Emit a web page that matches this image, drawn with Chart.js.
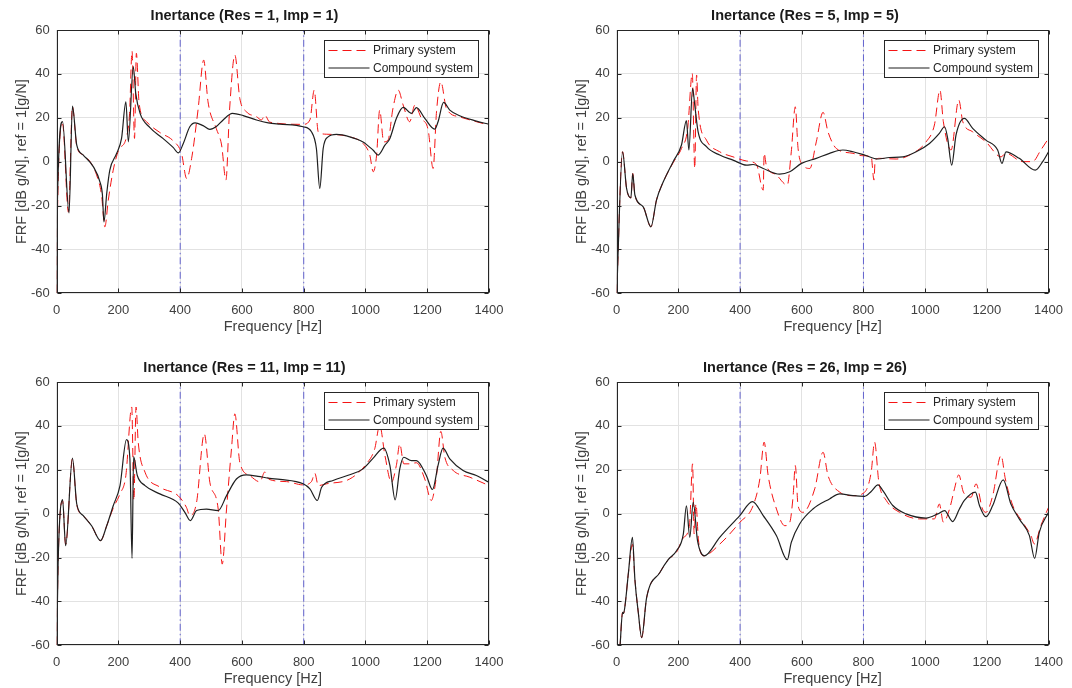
<!DOCTYPE html>
<html>
<head>
<meta charset="utf-8">
<script src="https://cdn.jsdelivr.net/npm/chart.js@4/dist/chart.umd.min.js"></script>
<style>
html,body{margin:0;padding:0;background:#fff;overflow:hidden;width:1072px;height:688px;}
canvas{position:absolute;display:block;}
</style>
</head>
<body>
<canvas id="c1" width="536" height="336" style="left:0;top:0"></canvas>
<canvas id="c2" width="512" height="336" style="left:560px;top:0"></canvas>
<canvas id="c3" width="536" height="336" style="left:0;top:352px"></canvas>
<canvas id="c4" width="512" height="336" style="left:560px;top:352px"></canvas>
<script>
// ---------------- DATA ----------------
const resImp = [1, 5, 11, 26];
const xTicks = [0, 200, 400, 600, 800, 1000, 1200, 1400];
const yTicks = [-60, -40, -20, 0, 20, 40, 60];
const refFreqs = [400, 800];
const seriesNames = ['Primary system', 'Compound system'];
const xLabel = 'Frequency [Hz]';
const yLabel = 'FRF [dB g/N], ref = 1[g/N]';

// Panel 1 (Res = 1, Imp = 1)
const p1PrimaryHz = [0,3,19,38,51,65,86,108,129,145,156,167,183,200,226,236,244,252,258,267,291,334,377,404,421,437,458,476,490,517,534,548,560,577,593,614,647,663,674,690,798,820,834,847,874,949,992,1014,1025,1036,1046,1059,1073,1089,1106,1122,1143,1160,1181,1203,1219,1230,1244,1262,1305,1359,1400];
const p1PrimaryDb = [-60,-20,17,-23,25,7,3,0,-6,-15,-29.7,-17.6,-3.9,5,11.3,22,50.4,10.6,49.4,26.5,18.2,13.3,9.5,3.8,-7.7,1.5,24,46.3,27.3,15,7.6,-8.4,24,48.6,28.8,22.8,20.5,19,21.2,18,17,19,32.6,13.6,12.5,11.3,8.3,3,-4.6,3,23.5,9,9.8,24.3,32.6,25.8,18.2,25.8,19.7,14.4,-3.1,22.7,36.4,24.3,20.4,18.2,16.7];
const p1CompoundHz = [0,2,19,40,51,65,86,119,140,148,153,162,172,194,210,224,232,248,256,270,302,345,377,394,410,431,448,474,496,517,539,569,604,647,685,723,798,825,841,852,863,879,906,949,992,1025,1041,1063,1079,1100,1122,1149,1165,1192,1224,1235,1253,1273,1305,1359,1400];
const p1CompoundDb = [-60,-20.6,18.2,-23.4,25.3,7.5,3,-2.4,-9.2,-15,-27.5,-14.5,-3.9,3.7,10.6,27.3,9,43.3,31.1,22,15.5,10.5,6.5,4,8.3,15.9,17.7,16.4,14.7,16,19,22,21,19,17.7,17.1,15.9,13.6,6,-12.2,6,11.3,12.4,11.3,9,5.2,3,7.5,10.6,19.7,24.7,22,24.6,19.7,14.8,18.2,27,23.5,20.9,18.5,17];

// Panel 2 (Res = 5, Imp = 5)
const p2PrimaryHz = [0,19,32,46,52,59,86,111,129,151,183,210,230,245,253,259,264,291,334,377,421,453,475,478,485,518,553,566,579,588,604,626,647,669,685,712,766,798,825,834,838,852,906,960,1003,1030,1048,1059,1084,1109,1122,1154,1197,1246,1262,1316,1348,1375,1400];
const p2PrimaryDb = [-60,4.5,-12.2,-16.5,-5.4,-15.2,-20.6,-29.7,-17.5,-9.2,-0.5,6,15,40.2,-3.1,39.5,24.3,9.8,4.5,2.2,0.3,-1.3,-13,3.8,-1.6,-6.1,-10.7,4.5,25,6,-1.6,-3.1,9,22.5,13.6,6,3.8,2.7,2.2,-8.4,0.7,1.5,1.2,3.8,9,16.7,32.6,18.2,5.3,28.1,18.2,13.6,9,2.2,3.8,0,0,5.3,10.6];
const p2CompoundHz = [0,19,32,46,52,59,86,111,129,151,183,210,226,234,246,253,264,291,334,377,421,442,475,528,561,599,647,690,733,766,804,847,884,928,971,1014,1046,1063,1073,1086,1100,1127,1154,1197,1235,1249,1262,1305,1357,1381,1400];
const p2CompoundDb = [-60,4.5,-12.2,-16.5,-5.4,-15.2,-20.6,-29.7,-17.5,-9.2,0,7.6,18.7,5.3,33.4,25.8,13.6,6.8,3,0.7,-1.6,-1.3,-3.1,-5.7,-4.6,-0.8,1.5,3.8,5.3,4.5,3,1.2,1.9,2.2,4.5,8.3,12.9,15.9,10.6,-1.6,12.1,19.7,15.2,9.8,5.3,-0.8,4.5,1.5,-3.9,0,4.5];

// Panel 3 (Res = 11, Imp = 11)
const p3PrimaryHz = [0,5,19,29,51,65,86,113,142,162,183,205,224,243,250,257,264,286,334,393,420,431,453,478,496,523,536,550,566,577,593,625,658,674,688,744,798,825,836,847,874,949,1003,1030,1046,1063,1084,1100,1111,1124,1143,1165,1192,1213,1230,1244,1257,1284,1338,1400];
const p3PrimaryDb = [-60,-20,6,-14,25,4,-0.9,-5.5,-12.3,-5.5,2.5,9,17.4,48.6,6,48.6,32.6,18.9,12.1,8.2,2.9,-0.9,5.2,36.4,14.3,2.1,-23,2.1,29.5,45.5,23.4,17.4,14.5,19,15.6,14.6,13.1,14.6,18.4,12.8,13.6,15.8,22.7,29.6,40.2,26.5,14.3,22,31.8,22.7,22.7,23.2,15.8,6,17.4,37.5,25.7,19.7,16.6,12.8];
const p3CompoundHz = [0,5,19,29,51,65,86,113,142,162,183,205,226,237,244,249,261,286,334,393,415,433,453,485,523,550,582,614,652,690,723,798,820,844,858,895,949,992,1025,1059,1079,1096,1111,1124,1149,1165,1197,1217,1235,1251,1273,1316,1359,1400];
const p3CompoundDb = [-60,-20,6.4,-14.6,25.3,4.4,-0.9,-5.5,-12.3,-5.5,3.6,12.8,33.7,25,-20.4,26,17.4,12.8,9,4.9,0.6,-3.2,1.4,2.1,1.4,8.2,15.8,17.7,17,16.1,15.6,13.6,11.3,6,12,15.1,17.7,20.4,25.3,29.9,22,6.3,20.4,25.7,24.2,24.2,17.4,11,22,29.9,25,19.7,17.4,14.3];

// Panel 4 (Res = 26, Imp = 26)
const p4PrimaryHz = [11,19,22,26,38,51,59,70,81,97,140,167,194,216,236,246,251,257,265,282,334,399,442,464,478,491,518,545,561,572,579,588,604,642,669,685,723,766,804,825,836,850,874,917,982,1030,1046,1059,1079,1095,1109,1124,1149,1165,1186,1197,1219,1246,1260,1284,1316,1343,1354,1375,1400];
const p4PrimaryDb = [-60,-45,-45.5,-43,-27,-14,-30,-45,-56.5,-38.3,-26.8,-21,-17.5,-11,-5,22.7,-9.2,4.4,-12,-19.2,-13.9,-4,3.6,15.8,32.6,17.4,2.1,-5.5,-4,8.2,21.9,3.6,0.6,11.3,28,17.4,9.8,8.2,9.8,18.9,32.6,14.3,6,0.6,-2.4,-2.4,4.4,-3.9,2.1,11.3,17.7,9.8,7.5,13.6,2.1,0.6,8.2,26.5,15.8,3.7,-3.9,-10,-13.8,-5.5,2.9];
const p4CompoundHz = [11,19,22,26,38,51,59,70,81,97,140,167,194,216,226,237,248,262,284,334,399,440,475,518,553,566,593,636,690,723,766,804,825,847,863,895,938,1003,1041,1063,1089,1111,1127,1163,1176,1197,1219,1253,1278,1305,1338,1355,1370,1400];
const p4CompoundDb = [-60,-45,-45.5,-43,-27,-10.8,-30,-45,-56.5,-38.3,-26.8,-21,-16.9,-9.3,3.6,-10.8,5.2,-12.3,-19.2,-10.8,-0.9,5.5,-0.9,-10.1,-21,-13.1,-4.7,2.1,6.7,9,8.2,7.9,10.1,13.1,10.5,3.7,-0.1,-2,-0.1,1.4,-3.6,2.1,6,9.8,3.7,-1.4,3.7,15.4,4.4,-2.4,-10,-20.4,-8.5,0.6];

// ---------------- STYLE / BUILD ----------------
const FONT = '"Liberation Sans", Arial, Helvetica, sans-serif';
const TXT = '#262626';

function pts(hz, db) { return hz.map((h, i) => ({x: h, y: db[i]})); }

const frameLegend = {
  id: 'frameLegend',
  afterDatasetsDraw(chart) {
    const {ctx, chartArea: a, scales} = chart;
    ctx.save();
    const L = Math.round(a.left) + 0.5, R = Math.round(a.right) - 0.5;
    const T = Math.round(a.top) + 0.5, B = Math.round(a.bottom) - 0.5;
    ctx.strokeStyle = TXT; ctx.lineWidth = 1; ctx.setLineDash([]);
    ctx.beginPath();
    xTicks.forEach(v => {
      const px = Math.round(scales.x.getPixelForValue(v)) + 0.5;
      ctx.moveTo(px, B); ctx.lineTo(px, B - 4);
      ctx.moveTo(px, T); ctx.lineTo(px, T + 4);
    });
    yTicks.forEach(v => {
      const py = Math.round(scales.y.getPixelForValue(v)) + 0.5;
      ctx.moveTo(L, py); ctx.lineTo(L + 4, py);
      ctx.moveTo(R, py); ctx.lineTo(R - 4, py);
    });
    ctx.stroke();
    ctx.strokeRect(L, T, R - L, B - T);

    // legend box
    const w = 154, h = 37;
    const x0 = Math.round(a.right - 10.7 - w) + 0.5, y0 = Math.round(a.top + 10) + 0.5;
    ctx.fillStyle = '#fff';
    ctx.fillRect(x0, y0, w, h);
    ctx.strokeStyle = TXT; ctx.lineWidth = 1;
    ctx.strokeRect(x0, y0, w, h);
    const items = chart.data.datasets.filter(d => d.inLegend);
    ctx.font = '12px ' + FONT;
    ctx.textBaseline = 'middle';
    ctx.textAlign = 'left';
    items.forEach((d, i) => {
      const yy = y0 + 10 + i * 17.5;
      ctx.beginPath();
      ctx.strokeStyle = d.borderColor;
      ctx.lineWidth = d.borderWidth;
      ctx.setLineDash(d.borderDash || []);
      ctx.moveTo(x0 + 4, yy); ctx.lineTo(x0 + 45, yy);
      ctx.stroke();
      ctx.setLineDash([]);
      ctx.fillStyle = TXT;
      ctx.fillText(d.label, x0 + 48.5, yy + 0.5);
    });
    ctx.restore();
  }
};

function makeChart(id, res, priHz, priDb, comHz, comDb) {
  const primary = {label: seriesNames[0], data: pts(priHz, priDb), borderColor: 'rgb(245,20,20)', borderWidth: 1, borderDash: [9, 5], order: 1, inLegend: true, cubicInterpolationMode: 'monotone'};
  const compound = {label: seriesNames[1], data: pts(comHz, comDb), borderColor: '#1f1f1f', borderWidth: 1.2, borderDash: [], order: 0, inLegend: true, cubicInterpolationMode: 'monotone'};
  const refs = refFreqs.map(f => ({label: 'ref ' + f, data: [{x: f, y: -60}, {x: f, y: 60}], borderColor: 'rgba(85,85,205,0.9)', borderWidth: 1, borderDash: [7, 3, 1.5, 3], order: 2, inLegend: false}));
  const cfg = {
    type: 'line',
    data: {datasets: [primary, compound].concat(refs)},
    options: {
      responsive: false,
      animation: false,
      events: [],
      layout: {padding: {left: 0, top: 0, bottom: 0, right: id === 'c1' || id === 'c3' ? 47 : 22}},
      elements: {point: {radius: 0}, line: {tension: 0, borderCapStyle: 'butt', borderJoinStyle: 'miter'}},
      plugins: {
        legend: {display: false},
        tooltip: {enabled: false},
        title: {display: true, text: 'Inertance (Res = ' + res + ', Imp = ' + res + ')', color: '#1a1a1a', font: {family: FONT, size: 14.5, weight: 'bold', lineHeight: 1.2}, padding: {top: 7.5, bottom: 5.1}}
      },
      scales: {
        x: {
          type: 'linear', min: 0, max: 1400,
          afterBuildTicks: s => { s.ticks = xTicks.map(v => ({value: v})); },
          ticks: {font: {family: FONT, size: 13}, color: '#404040', padding: 9, maxRotation: 0, autoSkip: false, callback: v => String(v)},
          grid: {color: '#e2e2e2', drawTicks: false, lineWidth: 1},
          border: {display: false},
          title: {display: true, text: xLabel, color: '#404040', font: {family: FONT, size: 14.5, lineHeight: 1.2}, padding: {top: 0, bottom: 0.3}},
          afterFit: s => { s.height = 42.7; }
        },
        y: {
          type: 'linear', min: -60, max: 60,
          afterBuildTicks: s => { s.ticks = yTicks.map(v => ({value: v})); },
          ticks: {font: {family: FONT, size: 13}, color: '#404040', padding: 7, callback: v => String(v)},
          grid: {color: '#e2e2e2', drawTicks: false, lineWidth: 1},
          border: {display: false},
          title: {display: true, text: yLabel, color: '#404040', font: {family: FONT, size: 14.5, lineHeight: 1.2}, padding: {top: 13.3, bottom: 0}},
          afterFit: s => { s.width = 56.7; }
        }
      }
    },
    plugins: [frameLegend]
  };
  return new Chart(document.getElementById(id), cfg);
}

makeChart('c1', resImp[0], p1PrimaryHz, p1PrimaryDb, p1CompoundHz, p1CompoundDb);
makeChart('c2', resImp[1], p2PrimaryHz, p2PrimaryDb, p2CompoundHz, p2CompoundDb);
makeChart('c3', resImp[2], p3PrimaryHz, p3PrimaryDb, p3CompoundHz, p3CompoundDb);
makeChart('c4', resImp[3], p4PrimaryHz, p4PrimaryDb, p4CompoundHz, p4CompoundDb);
</script>
</body>
</html>
